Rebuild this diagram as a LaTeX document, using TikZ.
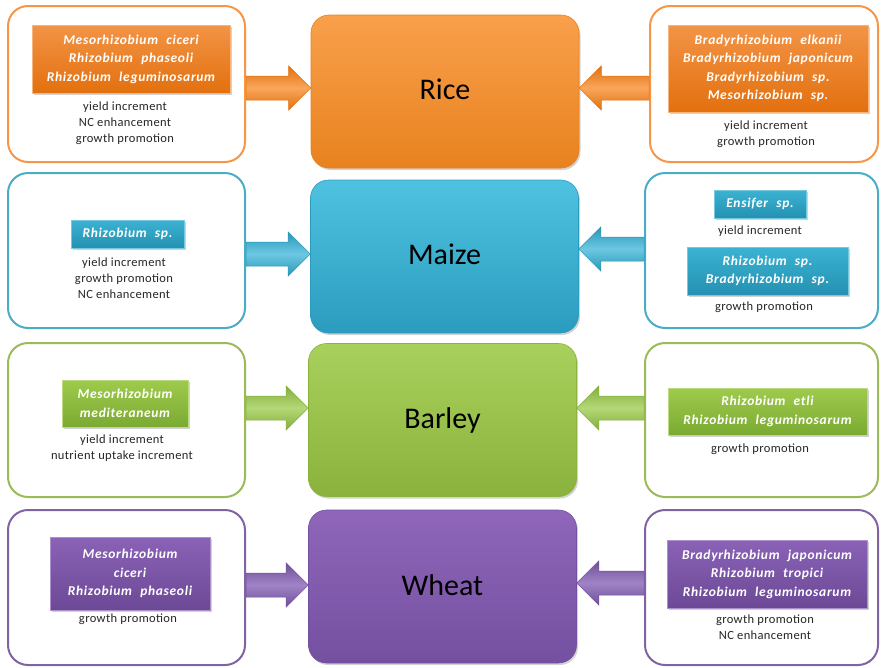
\documentclass[tikz,border=0pt]{standalone}
\usepackage{fontspec}
\setmainfont{Carlito}
\newfontfamily\specfont{Carlito}[LetterSpace=5,WordSpace=2.2]
\newfontfamily\efffont{Carlito}[LetterSpace=3]
\usetikzlibrary{calc,fit,shadows}

\definecolor{orLine}{HTML}{F79646}
\definecolor{orTop}{HTML}{F9A04C}
\definecolor{orBot}{HTML}{E8821E}
\definecolor{orSpTop}{HTML}{F29446}
\definecolor{orSpBot}{HTML}{E3700E}
\definecolor{orDark}{HTML}{E3700E}
\definecolor{orLight}{HTML}{F8A65A}

\definecolor{blLine}{HTML}{4BACC6}
\definecolor{blTop}{HTML}{4EC2E0}
\definecolor{blBot}{HTML}{2C9CBE}
\definecolor{blSpTop}{HTML}{3CB2D2}
\definecolor{blSpBot}{HTML}{2491B2}
\definecolor{blDark}{HTML}{2A97B8}
\definecolor{blLight}{HTML}{6CC8E2}

\definecolor{grLine}{HTML}{9BBB59}
\definecolor{grTop}{HTML}{A8D05C}
\definecolor{grBot}{HTML}{8AB23C}
\definecolor{grSpTop}{HTML}{9FCB4C}
\definecolor{grSpBot}{HTML}{7BAA32}
\definecolor{grDark}{HTML}{84AE3C}
\definecolor{grLight}{HTML}{B4D877}

\definecolor{puLine}{HTML}{8064A2}
\definecolor{puTop}{HTML}{8F66BA}
\definecolor{puBot}{HTML}{7450A0}
\definecolor{puSpTop}{HTML}{8A62B6}
\definecolor{puSpBot}{HTML}{6C4996}
\definecolor{puDark}{HTML}{70509A}
\definecolor{puLight}{HTML}{A083C6}

\newcommand{\fatarrow}[3]{%
  \path[#3] let \p1=(#1), \p2=(#2), \n1={sign(\x2-\x1)} in
   (\x1,\y2+12pt) -- ({\x2-(\n1)*22pt},\y2+12pt) -- ({\x2-(\n1)*22pt},\y2+22pt)
   -- (\x2,\y2) -- ({\x2-(\n1)*22pt},\y2-22pt) -- ({\x2-(\n1)*22pt},\y2-12pt)
   -- (\x1,\y2-12pt) -- cycle;}

\begin{document}
\begin{tikzpicture}[x=1pt,y=-1pt,
  outer/.style={draw=#1Line, line width=2pt, rounded corners=20pt, fill=white, inner sep=0pt},
  crop/.style={rounded corners=18pt, top color=#1Top, bottom color=#1Bot,
     draw=#1Bot, line width=0.6pt, minimum width=268pt, minimum height=153pt,
     inner sep=0pt, font=\fontsize{30}{36}\selectfont, text=black,
     drop shadow={shadow xshift=1.5pt, shadow yshift=-2pt, opacity=0.35}},
  spec/.style={top color=#1SpTop, bottom color=#1SpBot, draw=#1SpTop!70!white,
     line width=0.5pt, inner sep=0pt, text=white, align=center,
     font=\specfont\fontsize{13.5}{18.5}\selectfont\bfseries\itshape,
     drop shadow={shadow xshift=1.5pt, shadow yshift=-1.5pt, opacity=0.35}},
  eff/.style={align=center, inner sep=0pt, text=black!85,
     font=\efffont\fontsize{12.5}{16}\selectfont},
  arr/.style={top color=#1Dark, bottom color=#1Dark, middle color=#1Light,
     draw=#1Dark, line width=0.5pt, line join=miter}
]
\useasboundingbox (0,0) rectangle (881,667);

% ---------- outer boxes ----------
\node[outer=or, fit={(8,6)(245,162)}] (L1) {};
\node[outer=or, fit={(650,6)(878,162)}] (R1) {};
\node[outer=bl, fit={(8,173)(245,328)}] (L2) {};
\node[outer=bl, fit={(645,173)(878,328)}] (R2) {};
\node[outer=gr, fit={(8,343)(245,497)}] (L3) {};
\node[outer=gr, fit={(645,343)(878,497)}] (R3) {};
\node[outer=pu, fit={(8,510)(245,665)}] (L4) {};
\node[outer=pu, fit={(645,510)(878,665)}] (R4) {};

% ---------- crop boxes ----------
\node[crop=or] (C1) at (445,91.5) {\raisebox{5pt}{Rice}};
\node[crop=bl] (C2) at (444.5,256.5) {\raisebox{5pt}{Maize}};
\node[crop=gr] (C3) at (442.5,420) {\raisebox{3pt}{Barley}};
\node[crop=pu] (C4) at (442.5,586.5) {\raisebox{2pt}{Wheat}};

% ---------- arrow levels ----------
\coordinate (yl1) at (0,88);   \coordinate (yr1) at (0,88);
\coordinate (yl2) at (0,254);  \coordinate (yr2) at (0,249);
\coordinate (yl3) at (0,408);  \coordinate (yr3) at (0,408);
\coordinate (yl4) at (0,585);  \coordinate (yr4) at (0,583);

\fatarrow{L1.east |- yl1}{C1.west |- yl1}{arr=or}
\fatarrow{R1.west |- yr1}{C1.east |- yr1}{arr=or}
\fatarrow{L2.east |- yl2}{C2.west |- yl2}{arr=bl}
\fatarrow{R2.west |- yr2}{C2.east |- yr2}{arr=bl}
\fatarrow{L3.east |- yl3}{C3.west |- yl3}{arr=gr}
\fatarrow{R3.west |- yr3}{C3.east |- yr3}{arr=gr}
\fatarrow{L4.east |- yl4}{C4.west |- yl4}{arr=pu}
\fatarrow{R4.west |- yr4}{C4.east |- yr4}{arr=pu}

% ---------- Rice ----------
\node[spec=or, minimum width=198pt, minimum height=68pt] (s1l) at (131,59)
  {Mesorhizobium ciceri\\Rhizobium phaseoli\\Rhizobium leguminosarum};
\node[eff] (e1l) at (125,123) {yield increment\\NC enhancement\\growth promotion};
\node[spec=or, minimum width=200pt, minimum height=87pt] (s1r) at (768,68.5)
  {Bradyrhizobium elkanii\\Bradyrhizobium japonicum\\Bradyrhizobium sp.\\Mesorhizobium sp.};
\node[eff] (e1r) at (766,134.5) {yield increment\\growth promotion};

% ---------- Maize ----------
\node[spec=bl, minimum width=113pt, minimum height=28pt] (s2l) at (127.5,234) {Rhizobium sp.};
\node[eff] (e2l) at (124,278) {yield increment\\growth promotion\\NC enhancement};
\node[spec=bl, minimum width=92pt, minimum height=28pt] (s2r) at (760,204) {Ensifer sp.};
\node[eff] (e2ra) at (760,231) {yield increment};
\node[spec=bl, minimum width=161pt, minimum height=48pt] (s2rb) at (767.5,271)
  {Rhizobium sp.\\Bradyrhizobium sp.};
\node[eff] (e2rb) at (764,307) {growth promotion};

% ---------- Barley ----------
\node[spec=gr, minimum width=126pt, minimum height=47pt] (s3l) at (125,403.5)
  {Mesorhizobium\\mediteraneum};
\node[eff] (e3l) at (122,448) {yield increment\\nutrient uptake increment};
\node[spec=gr, minimum width=199pt, minimum height=47pt] (s3r) at (767.5,411.5)
  {Rhizobium etli\\Rhizobium leguminosarum};
\node[eff] (e3r) at (760,449) {growth promotion};

% ---------- Wheat ----------
\node[spec=pu, minimum width=160pt, minimum height=73pt] (s4l) at (130,573.5)
  {Mesorhizobium\\ciceri\\Rhizobium phaseoli};
\node[eff] (e4l) at (128,619) {growth promotion};
\node[spec=pu, minimum width=200pt, minimum height=68pt] (s4r) at (767,574)
  {Bradyrhizobium japonicum\\Rhizobium tropici\\Rhizobium leguminosarum};
\node[eff] (e4r) at (765,627) {growth promotion\\NC enhancement};
\end{tikzpicture}
\end{document}
